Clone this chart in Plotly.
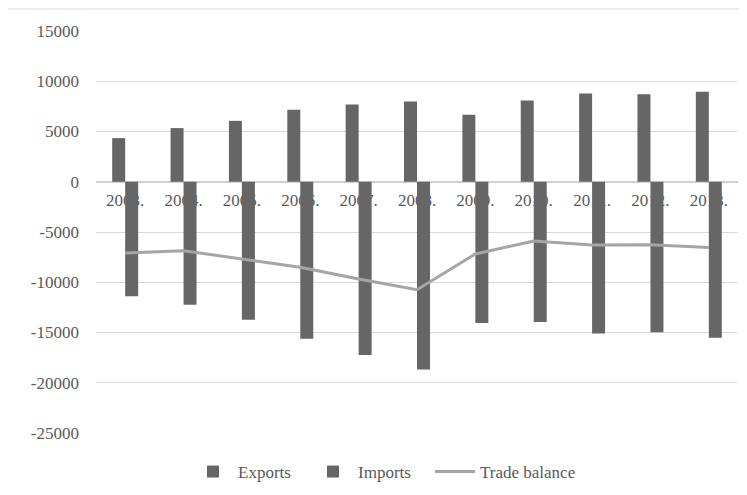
import plotly.graph_objects as go

years = ["2003.", "2004.", "2005.", "2006.", "2007.", "2008.", "2009.", "2010.", "2011.", "2012.", "2013."]
exports = [4340, 5340, 6060, 7160, 7690, 7980, 6660, 8080, 8780, 8710, 8950]
imports = [-11400, -12230, -13720, -15610, -17230, -18690, -14050, -13950, -15110, -14980, -15510]
trade_balance = [-7090, -6860, -7690, -8510, -9680, -10740, -7190, -5900, -6300, -6260, -6530]
y_ticks = [15000, 10000, 5000, 0, -5000, -10000, -15000, -20000, -25000]
y_tick_text = ["15000", "10000", "5000", "0", "-5000", "-10000", "-15000", "-20000", "-25000"]

FONT = "Liberation Serif, Times New Roman, serif"
TXT = "#595959"

fig = go.Figure()
fig.add_trace(go.Bar(x=years, y=exports, name="Exports", marker=dict(color="#666666", line=dict(width=0))))
fig.add_trace(go.Bar(x=years, y=imports, name="Imports", marker=dict(color="#666666", line=dict(width=0))))
fig.add_trace(go.Scatter(x=years, y=trade_balance, name="Trade balance", mode="lines",
                         line=dict(color="#a5a5a5", width=3), legend="legend2"))

leg_common = dict(orientation="h", xref="container", yref="container", xanchor="left",
                  y=0.0472, yanchor="middle", itemwidth=40,
                  font=dict(family=FONT, size=17, color=TXT), bgcolor="rgba(0,0,0,0)")

fig.update_layout(
    width=739, height=487, autosize=False,
    margin=dict(l=88, r=9, t=23, b=62, autoexpand=False),
    paper_bgcolor="white", plot_bgcolor="white",
    font=dict(family=FONT, size=17, color=TXT),
    barmode="group", bargap=0.555, bargroupgap=0,
    showlegend=True,
    legend=dict(x=180 / 739, entrywidth=65, entrywidthmode="pixels", **leg_common),
    legend2=dict(x=422 / 739, **leg_common),
    xaxis=dict(anchor="free", position=0.625, showgrid=False, showline=False, ticks="",
               layer="below traces", automargin=False, ticklabelstandoff=6,
               tickfont=dict(family=FONT, size=17, color=TXT)),
    yaxis=dict(range=[-25000, 15000], tickvals=y_ticks, ticktext=y_tick_text, showgrid=True,
               gridcolor="#d9d9d9", automargin=False,
               gridwidth=1, zeroline=True, zerolinecolor="#d0d0d0", zerolinewidth=2,
               showline=False, ticks="", ticklabelstandoff=16,
               tickfont=dict(family=FONT, size=17, color=TXT)),
    shapes=[dict(type="rect", xref="paper", yref="paper", x0=-0.14, x1=1.1, y0=-0.3, y1=1.0547,
                 line=dict(color="#d9d9d9", width=1), fillcolor="rgba(0,0,0,0)", layer="below")],
)

fig.write_html("out.html")
